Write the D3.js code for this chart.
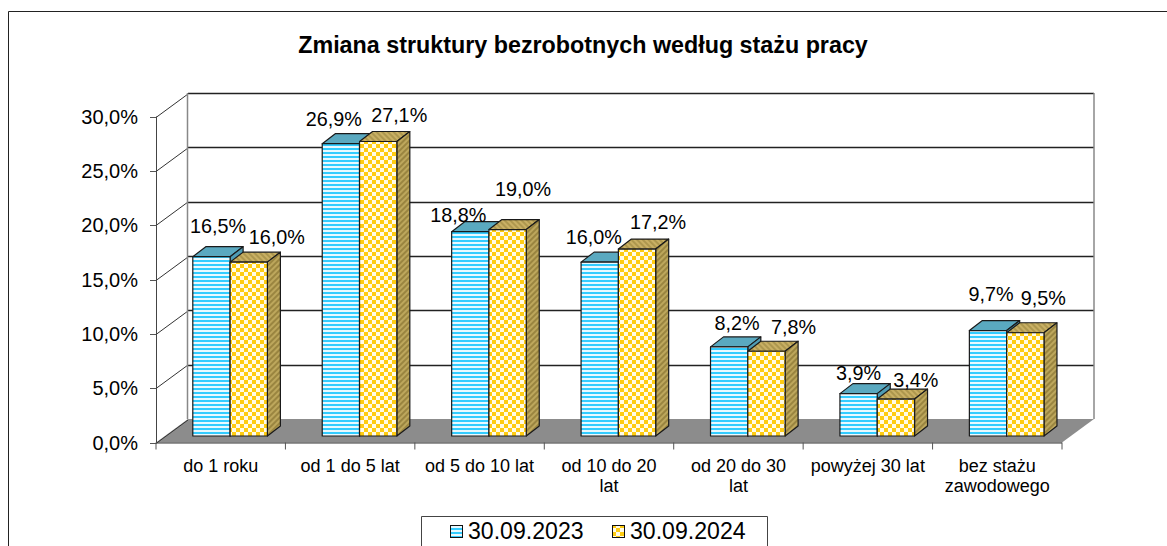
<!DOCTYPE html>
<html><head><meta charset="utf-8">
<script src="https://cdn.jsdelivr.net/npm/d3@7"></script>
<style>html,body{margin:0;padding:0;background:#fff}svg{display:block}text{font-family:"Liberation Sans",Arial,sans-serif;fill:#000}</style>
</head><body><svg id="c" width="1167" height="546"></svg>
<script>
const title = "Zmiana struktury bezrobotnych według stażu pracy";
const categories = ["do 1 roku","od 1 do 5 lat","od 5 do 10 lat","od 10 do 20 lat","od 20 do 30 lat","powyżej 30 lat","bez stażu zawodowego"];
const categoryLines = [["do 1 roku"],["od 1 do 5 lat"],["od 5 do 10 lat"],["od 10 do 20","lat"],["od 20 do 30","lat"],["powyżej 30 lat"],["bez stażu","zawodowego"]];
const seriesNames = ["30.09.2023","30.09.2024"];
const values2023 = [16.5,26.9,18.8,16.0,8.2,3.9,9.7];
const values2024 = [16.0,27.1,19.0,17.2,7.8,3.4,9.5];
const yTicks = [0,5,10,15,20,25,30];
// manual label nudges relative to each bar top
const nudge2023 = [[6.5,-24],[-7,-18],[-12,-10],[-6,-18],[8,-17],[0,-14],[3,-30]];
const nudge2024 = [[28,-18],[21,-20],[15.5,-34],[21,-20],[27,-17],[20,-12],[18,-28]];

const fmt = v => v.toFixed(1).replace(".",",") + "%";
const svg = d3.select("#c");
const defs = svg.append("defs");

const p1 = defs.append("pattern").attr("id","stripes").attr("patternUnits","userSpaceOnUse").attr("width",4).attr("height",4);
p1.append("rect").attr("width",4).attr("height",4).attr("fill","#33ccff");
p1.append("rect").attr("y",2).attr("width",4).attr("height",2).attr("fill","#e8f9ff");
const p2 = defs.append("pattern").attr("id","check").attr("patternUnits","userSpaceOnUse").attr("width",8).attr("height",8);
p2.append("rect").attr("width",8).attr("height",8).attr("fill","#fffbe8");
p2.append("rect").attr("width",4).attr("height",4).attr("fill","#ffcc11");
p2.append("rect").attr("x",4).attr("y",4).attr("width",4).attr("height",4).attr("fill","#ffcc11");
const p3 = defs.append("pattern").attr("id","sideY").attr("patternUnits","userSpaceOnUse").attr("width",4).attr("height",4).attr("patternTransform","rotate(45)");
p3.append("rect").attr("width",4).attr("height",4).attr("fill","#bda75c");
p3.append("rect").attr("width",2).attr("height",4).attr("fill","#9a8540");
const p4 = defs.append("pattern").attr("id","topY").attr("patternUnits","userSpaceOnUse").attr("width",4).attr("height",4).attr("patternTransform","rotate(-45)");
p4.append("rect").attr("width",4).attr("height",4).attr("fill","#c9b064");
p4.append("rect").attr("width",2).attr("height",4).attr("fill","#ad974e");

// frame
svg.append("path").attr("d","M8.5,546V11.5H1167").attr("fill","none").attr("stroke","#222").attr("stroke-width",1);

svg.append("text").attr("x",583).attr("y",53).attr("text-anchor","middle")
  .attr("font-size",23.3).attr("font-weight","bold").text(title);

// geometry
const x0 = 156, x1 = 1062, dx = 32, dy = 23.5;
const y = d3.scaleLinear().domain([0,30]).range([442.5,116.5]);
const xB = d3.scaleBand().domain(categories).range([x0,x1]);
const pad = 36.8, barW = 37.3;
const xS = d3.scaleBand().domain(seriesNames).range([0,2*barW]);
const barBase = 436;
const barY = v => barBase - (y(0)-y(v));
const depthX = 13, depthY = 10;

// floor
svg.append("path").attr("d",`M${x0},${y(0)}L${x0+dx},${y(0)-dy}H${x1+dx}L${x1},${y(0)}Z`).attr("fill","#8c8c8c");

// back wall gridlines and side diagonals
const grid = svg.append("g");
yTicks.forEach(t=>{
  const yy = Math.round(y(t))+.5;
  if(t>0){
    grid.append("line").attr("x1",x0+dx).attr("x2",x1+dx).attr("y1",Math.round(y(t)-dy)+.5).attr("y2",Math.round(y(t)-dy)+.5).attr("stroke","#222").attr("stroke-width",1.3);
  }
  grid.append("line").attr("x1",x0).attr("y1",yy).attr("x2",x0+dx).attr("y2",yy-dy).attr("stroke","#333").attr("stroke-width",1);
  grid.append("line").attr("x1",x0-6).attr("x2",x0).attr("y1",yy).attr("y2",yy).attr("stroke","#555");
  svg.append("text").attr("x",x0-18).attr("y",y(t)+7).attr("text-anchor","end").attr("font-size",20).text(fmt(t));
});
grid.append("line").attr("x1",x0+dx-.5).attr("x2",x0+dx-.5).attr("y1",y(30)-dy).attr("y2",y(0)-dy).attr("stroke","#888").attr("stroke-width",1.5);
grid.append("line").attr("x1",x1+dx).attr("x2",x1+dx).attr("y1",y(30)-dy).attr("y2",y(0)-dy).attr("stroke","#888").attr("stroke-width",1.5);
// axes
grid.append("line").attr("x1",x0+.5).attr("x2",x0+.5).attr("y1",y(30)).attr("y2",y(0)).attr("stroke","#444");
grid.append("line").attr("x1",x0).attr("x2",x1).attr("y1",y(0)+.5).attr("y2",y(0)+.5).attr("stroke","#333").attr("stroke-width",1.2);
categories.concat([null]).forEach((c,i)=>{
  const xx = c===null ? x1 : xB(c);
  grid.append("line").attr("x1",xx).attr("x2",xx).attr("y1",y(0)).attr("y2",y(0)+7).attr("stroke","#555");
});

// bars
const bars = [[seriesNames[0],values2023,"url(#stripes)","#5aa9c0","#4f9cb4"],[seriesNames[1],values2024,"url(#check)","url(#topY)","url(#sideY)"]];
categories.forEach((c,i)=>{
  bars.forEach(([name,vals,front,top,side])=>{
    const l = xB(c)+pad+xS(name), r = l+barW, t = barY(vals[i]);
    const g = svg.append("g").attr("stroke","#1a1a1a").attr("stroke-width",1.2).attr("stroke-linejoin","round");
    g.append("path").attr("d",`M${l},${t}L${l+depthX},${t-depthY}H${r+depthX}L${r},${t}Z`).attr("fill",top);
    g.append("path").attr("d",`M${r},${t}L${r+depthX},${t-depthY}V${barBase-depthY}L${r},${barBase}Z`).attr("fill",side);
    g.append("rect").attr("x",l).attr("y",t).attr("width",barW).attr("height",barBase-t).attr("fill",front);
  });
});
// labels
categories.forEach((c,i)=>{
  [[seriesNames[0],values2023,nudge2023],[seriesNames[1],values2024,nudge2024]].forEach(([name,vals,n])=>{
    const cx = xB(c)+pad+xS(name)+barW/2;
    svg.append("text").attr("x",cx+n[i][0]).attr("y",barY(vals[i])+n[i][1]).attr("text-anchor","middle").attr("font-size",19.8).text(fmt(vals[i]));
  });
  categoryLines[i].forEach((s,j)=>{
    svg.append("text").attr("x",xB(c)+xB.bandwidth()/2).attr("y",472+j*19.5).attr("text-anchor","middle").attr("font-size",18).text(s);
  });
});

// legend
svg.append("path").attr("d","M421.5,546V516.5H767.5V546").attr("fill","none").attr("stroke","#444");
const lx = d3.scaleOrdinal().domain(seriesNames).range([450.5,612.5]);
[[seriesNames[0],"url(#stripes)"],[seriesNames[1],"url(#check)"]].forEach(([n,f])=>{
  svg.append("rect").attr("x",lx(n)).attr("y",525.5).attr("width",12).attr("height",12).attr("fill",f).attr("stroke","#111").attr("stroke-width",1);
  svg.append("text").attr("x",lx(n)+17.5).attr("y",539).attr("font-size",23.1).text(n);
});
</script></body></html>
